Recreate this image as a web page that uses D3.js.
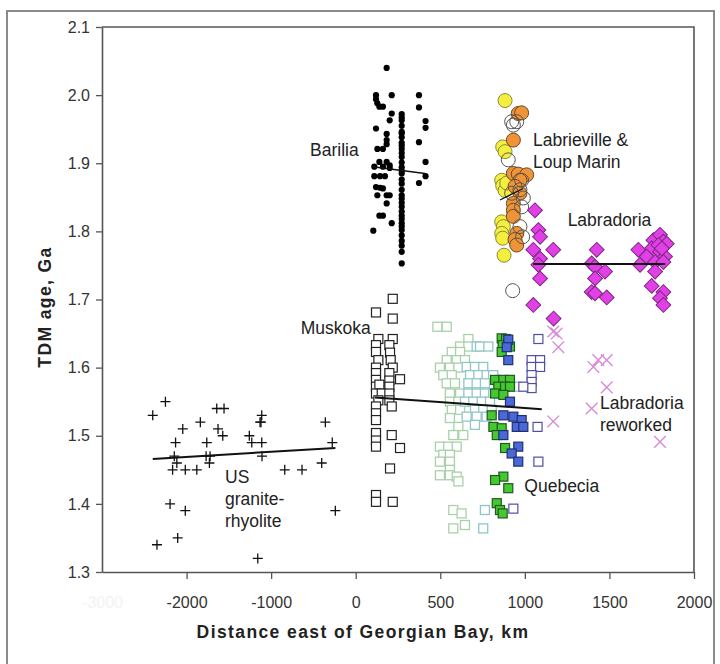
<!DOCTYPE html>
<html><head><meta charset="utf-8">
<script src="https://cdn.jsdelivr.net/npm/d3@7"></script>
<style>
html,body{margin:0;padding:0;background:#fff;}
svg{display:block;font-family:Arial,"Liberation Sans",sans-serif;}
</style></head>
<body>
<script>
// ---------- DATA ----------
const xTicks = [-3000, -2000, -1000, 0, 500, 1000, 1500, 2000];
const yTicks = [1.3, 1.4, 1.5, 1.6, 1.7, 1.8, 1.9, 2.0, 2.1];

const usGranite = [[-2400,1.53],[-2250,1.55],[-2350,1.34],[-2195,1.40],[-2130,1.49],[-2145,1.47],[-2115,1.46],[-2165,1.45],
 [-2105,1.35],[-2045,1.51],[-2015,1.45],[-2015,1.39],[-1879,1.45],[-1837,1.52],[-1761,1.49],[-1769,1.47],[-1722,1.47],
 [-1730,1.46],[-1643,1.54],[-1557,1.54],[-1628,1.51],[-1572,1.50],[-1258,1.50],[-1229,1.49],[-1111,1.49],[-1131,1.52],
 [-1111,1.53],[-1120,1.52],[-1108,1.47],[-1158,1.32],[-839,1.45],[-635,1.45],[-402,1.46],[-359,1.52],[-277,1.49],[-241,1.39]];
const usTrend = [[-2400,1.466],[-240,1.482]];

const barilia = [[183,2.04],[120,2.00],[213,2.00],[374,2.00],[120,1.994],[128,1.988],[140,1.983],[161,1.983],[374,1.982],
 [213,1.973],[272,1.972],[201,1.963],[272,1.963],[413,1.962],[120,1.951],[272,1.955],[413,1.952],[183,1.943],[272,1.946],
 [183,1.934],[183,1.928],[272,1.938],[272,1.930],[374,1.931],[128,1.921],[161,1.921],[272,1.921],[272,1.915],[272,1.909],
 [140,1.902],[183,1.902],[201,1.897],[272,1.901],[413,1.902],[110,1.895],[161,1.895],[201,1.893],[272,1.894],
 [110,1.881],[144,1.881],[173,1.881],[272,1.885],[413,1.881],[374,1.871],[120,1.865],[144,1.864],[161,1.863],
 [272,1.876],[272,1.870],[272,1.861],[128,1.853],[183,1.853],[201,1.853],[272,1.853],[183,1.841],[272,1.842],
 [272,1.836],[272,1.829],[140,1.823],[161,1.823],[272,1.823],[272,1.818],[213,1.812],[272,1.812],[104,1.801],
 [272,1.802],[272,1.794],[272,1.786],[272,1.779],[272,1.770],[272,1.753],[272,1.848],[272,1.807],[272,1.889],
 [272,1.926],[272,1.944],[272,1.967]];
const bariliaTrend = [[100,1.895],[410,1.885]];

const lrYellow = [[883,1.992],[869,1.924],[883,1.917],[863,1.875],[869,1.867],[883,1.860],[893,1.871],[863,1.814],
 [873,1.807],[863,1.797],[869,1.790],[877,1.765]];
const lrOrange = [[961,1.973],[981,1.974],[932,1.934],[932,1.885],[961,1.884],[1011,1.883],[971,1.875],[942,1.866],
 [971,1.856],[932,1.841],[932,1.831],[932,1.822],[952,1.797],[942,1.788],[952,1.780]];
const lrOpen = [[922,1.961],[952,1.961],[932,1.956],[902,1.905],[981,1.875],[971,1.861],[991,1.849],[922,1.856],
 [981,1.836],[971,1.807],[987,1.792],[928,1.713]];
const lrTrend = [[853,1.846],[989,1.863]];

const labradoria = [[1060,1.831],[1080,1.802],[1090,1.792],[1050,1.773],[1168,1.773],[1090,1.760],[1080,1.751],
 [1090,1.731],[1050,1.692],[1170,1.672],[1425,1.773],[1395,1.753],[1415,1.748],[1474,1.741],[1415,1.731],[1395,1.711],
 [1415,1.709],[1484,1.703],[1671,1.773],[1681,1.751],[1760,1.787],[1799,1.795],[1819,1.785],[1750,1.775],[1799,1.770],
 [1829,1.763],[1720,1.763],[1770,1.755],[1819,1.755],[1770,1.741],[1750,1.720],[1819,1.711],[1799,1.702],[1819,1.692],
 [1839,1.782],[1790,1.780],[1810,1.775]];
const labradoriaTrend = [[1050,1.752],[1830,1.752]];

const labReworked = [[1168,1.653],[1188,1.650],[1198,1.630],[1405,1.601],[1434,1.611],[1484,1.611],[1484,1.571],
 [1395,1.540],[1168,1.521],[1799,1.491]];

const muskoka = [[219,1.701],[120,1.681],[219,1.672],[134,1.642],[219,1.642],[120,1.633],[199,1.633],[120,1.623],
 [203,1.622],[134,1.611],[207,1.611],[120,1.600],[219,1.600],[120,1.592],[199,1.592],[262,1.583],[120,1.582],[199,1.581],
 [120,1.572],[199,1.572],[140,1.575],[120,1.562],[154,1.562],[199,1.562],[134,1.552],[199,1.552],[120,1.543],[213,1.543],
 [120,1.533],[120,1.523],[120,1.504],[213,1.501],[120,1.493],[120,1.484],[262,1.482],[203,1.452],[120,1.413],[120,1.403],
 [219,1.403]];
const muskokaQuebeciaTrend = [[114,1.556],[1100,1.539]];

const qLightGreen = [[483,1.660],[538,1.660],[666,1.642],[617,1.631],[666,1.631],[568,1.623],[617,1.623],[538,1.611],
 [597,1.611],[646,1.611],[498,1.600],[557,1.600],[607,1.600],[518,1.589],[568,1.589],[538,1.577],[587,1.577],[557,1.562],
 [617,1.562],[557,1.550],[607,1.550],[568,1.538],[617,1.538],[557,1.526],[607,1.513],[577,1.501],[636,1.501],[498,1.484],
 [547,1.484],[597,1.484],[518,1.472],[557,1.472],[498,1.462],[557,1.462],[557,1.450],[498,1.442],[557,1.442],[597,1.440],
 [607,1.433],[577,1.391],[626,1.386],[577,1.364],[646,1.369]];
const qCyan = [[715,1.631],[735,1.631],[784,1.631],[656,1.601],[705,1.601],[754,1.601],[676,1.589],[725,1.589],[774,1.589],
 [813,1.589],[666,1.577],[715,1.577],[764,1.577],[666,1.562],[715,1.562],[764,1.562],[813,1.562],[646,1.550],[695,1.550],
 [745,1.550],[794,1.550],[705,1.538],[754,1.538],[804,1.538],[656,1.528],[715,1.528],[774,1.528],[705,1.516],[952,1.572],
 [764,1.391],[754,1.364]];
const qNavy = [[1080,1.642],[1040,1.611],[1090,1.611],[1040,1.601],[1090,1.601],[1040,1.589],[1040,1.579],[1040,1.570],
 [991,1.572],[1075,1.513],[1080,1.462],[932,1.393]];
const qGreen = [[863,1.643],[889,1.642],[869,1.633],[912,1.631],[863,1.623],[824,1.582],[873,1.582],[912,1.582],[843,1.572],
 [883,1.572],[912,1.572],[824,1.562],[873,1.560],[804,1.530],[814,1.513],[863,1.511],[834,1.501],[883,1.482],[873,1.440],
 [824,1.435],[902,1.423],[834,1.401],[853,1.391],[869,1.386]];
const qBlue = [[902,1.641],[893,1.630],[902,1.611],[912,1.550],[873,1.530],[932,1.528],[981,1.523],[952,1.513],[991,1.513],
 [873,1.501],[961,1.484],[922,1.474],[961,1.462]];

const labels = [
 {t:["Barilia"], x:18, y:1.911, anchor:"end"},
 {t:["Labrieville &","Loup Marin"], x:1048, y:1.926, anchor:"start"},
 {t:["Labradoria"], x:1253, y:1.808, anchor:"start"},
 {t:["Muskoka"], x:89, y:1.650, anchor:"end"},
 {t:["US","granite-","rhyolite"], x:-1545, y:1.431, anchor:"start"},
 {t:["Quebecia"], x:997, y:1.417, anchor:"start"},
 {t:["Labradoria","reworked"], x:1444, y:1.539, anchor:"start"}
];

// ---------- CHART ----------
const W = 720, H = 664;
const svg = d3.select("body").append("svg").attr("width", W).attr("height", H);

// outer frame
svg.append("rect").attr("x", 7).attr("y", 11).attr("width", 707).attr("height", 670)
  .attr("fill", "none").attr("stroke", "#8a8a8a").attr("stroke-width", 2);

const x = d3.scaleLinear().domain([-3000, 0, 2000]).range([102, 355.7, 694]);
const y = d3.scaleLinear().domain([1.3, 2.1]).range([572, 27]);

// plot box (top & right)
svg.append("path").attr("d", `M${x(-3000)},${y(2.1)}H${x(2000)}V${y(1.3)}`)
  .attr("fill", "none").attr("stroke", "#555").attr("stroke-width", 1.6);

const gx = svg.append("g").attr("transform", `translate(0,${y(1.3)})`)
  .call(d3.axisBottom(x).tickValues(xTicks).tickSize(7).tickPadding(18).tickSizeOuter(0).tickFormat(d => String(d)));
const gy = svg.append("g").attr("transform", `translate(${x(-3000)},0)`)
  .call(d3.axisLeft(y).tickValues(yTicks).tickSize(6).tickPadding(6).tickSizeOuter(0).tickFormat(d3.format(".1f")));
[gx, gy].forEach(g => {
  g.select(".domain").attr("stroke", "#555").attr("stroke-width", 1.6);
  g.selectAll(".tick line").attr("stroke", "#555").attr("stroke-width", 1.3);
  g.selectAll(".tick text").attr("fill", "#333").attr("font-size", 16)
    .attr("font-family", "Arial, 'Liberation Sans', sans-serif");
});
gx.selectAll(".tick").filter(d => d === -3000).select("text").attr("fill", "#f3f3f3");
gx.selectAll(".tick").filter(d => d === -3000).select("line").remove();

// axis titles
svg.append("text").attr("x", 363).attr("y", 638).attr("text-anchor", "middle")
  .attr("font-size", 17.5).attr("font-weight", "bold").attr("fill", "#222").attr("letter-spacing", 1.4)
  .text("Distance east of Georgian Bay, km");
svg.append("text").attr("transform", `translate(51,${307}) rotate(-90)`).attr("text-anchor", "middle")
  .attr("font-size", 17.5).attr("font-weight", "bold").attr("fill", "#222").attr("letter-spacing", 1.4)
  .text("TDM age, Ga");

const plot = svg.append("g");
const sq = 9;
function squares(data, fill, stroke, sw) {
  plot.append("g").selectAll("rect").data(data).join("rect")
    .attr("x", d => x(d[0]) - sq/2).attr("y", d => y(d[1]) - sq/2)
    .attr("width", sq).attr("height", sq)
    .attr("fill", fill).attr("stroke", stroke).attr("stroke-width", sw);
}
function line(data, w) {
  plot.append("path").attr("d", d3.line().x(d => x(d[0])).y(d => y(d[1]))(data))
    .attr("stroke", "#111").attr("stroke-width", w || 2).attr("fill", "none");
}

// Muskoka & Quebecia
squares(muskoka, "#fff", "#222", 1.2);
squares(qLightGreen, "#fff", "#a9d1a9", 1.3);
squares(qCyan, "#fff", "#8fc6c8", 1.3);
squares(qNavy, "#fff", "#4f4fa6", 1.2);
squares(qGreen, "#46c930", "#1f5a1f", 1.2);
squares(qBlue, "#4a68d8", "#1f2f70", 1.2);
line(muskokaQuebeciaTrend, 2);

// Barilia
plot.append("g").selectAll("circle").data(barilia).join("circle")
  .attr("cx", d => x(d[0])).attr("cy", d => y(d[1])).attr("r", 3.1).attr("fill", "#000");
line(bariliaTrend, 1.5);

// Labrieville & Loup Marin
function circles(data, fill, stroke) {
  plot.append("g").selectAll("circle").data(data).join("circle")
    .attr("cx", d => x(d[0])).attr("cy", d => y(d[1])).attr("r", 7)
    .attr("fill", fill).attr("stroke", stroke).attr("stroke-width", 1);
}
circles(lrYellow, "#f4ee3e", "#8a8a40");
circles(lrOrange, "#ee9436", "#6a4a2a");
circles(lrOpen, "none", "#555");
line(lrTrend, 1.2);

// Labradoria
plot.append("g").selectAll("path").data(labradoria).join("path")
  .attr("transform", d => `translate(${x(d[0])},${y(d[1])}) rotate(45)`)
  .attr("d", d3.symbol().type(d3.symbolSquare).size(110))
  .attr("fill", "#e23fe6").attr("stroke", "#7a2a80").attr("stroke-width", 1);
line(labradoriaTrend, 2);

// Labradoria reworked
plot.append("g").selectAll("path").data(labReworked).join("path")
  .attr("transform", d => `translate(${x(d[0])},${y(d[1])})`)
  .attr("d", d3.symbol().type(d3.symbolX).size(90))
  .attr("fill", "none").attr("stroke", "#d78ad8").attr("stroke-width", 1.4);

// US granite-rhyolite
plot.append("g").selectAll("path").data(usGranite).join("path")
  .attr("transform", d => `translate(${x(d[0])},${y(d[1])})`)
  .attr("d", "M-5,0H5M0,-5V5")
  .attr("fill", "none").attr("stroke", "#111").attr("stroke-width", 1.3);
line(usTrend, 2);

// labels
labels.forEach(l => {
  const t = svg.append("text").attr("x", x(l.x)).attr("y", y(l.y))
    .attr("text-anchor", l.anchor).attr("font-size", 17.5).attr("fill", "#222");
  l.t.forEach((s, i) => t.append("tspan").attr("x", x(l.x)).attr("dy", i === 0 ? 0 : 22).text(s));
});
</script>
</body></html>
